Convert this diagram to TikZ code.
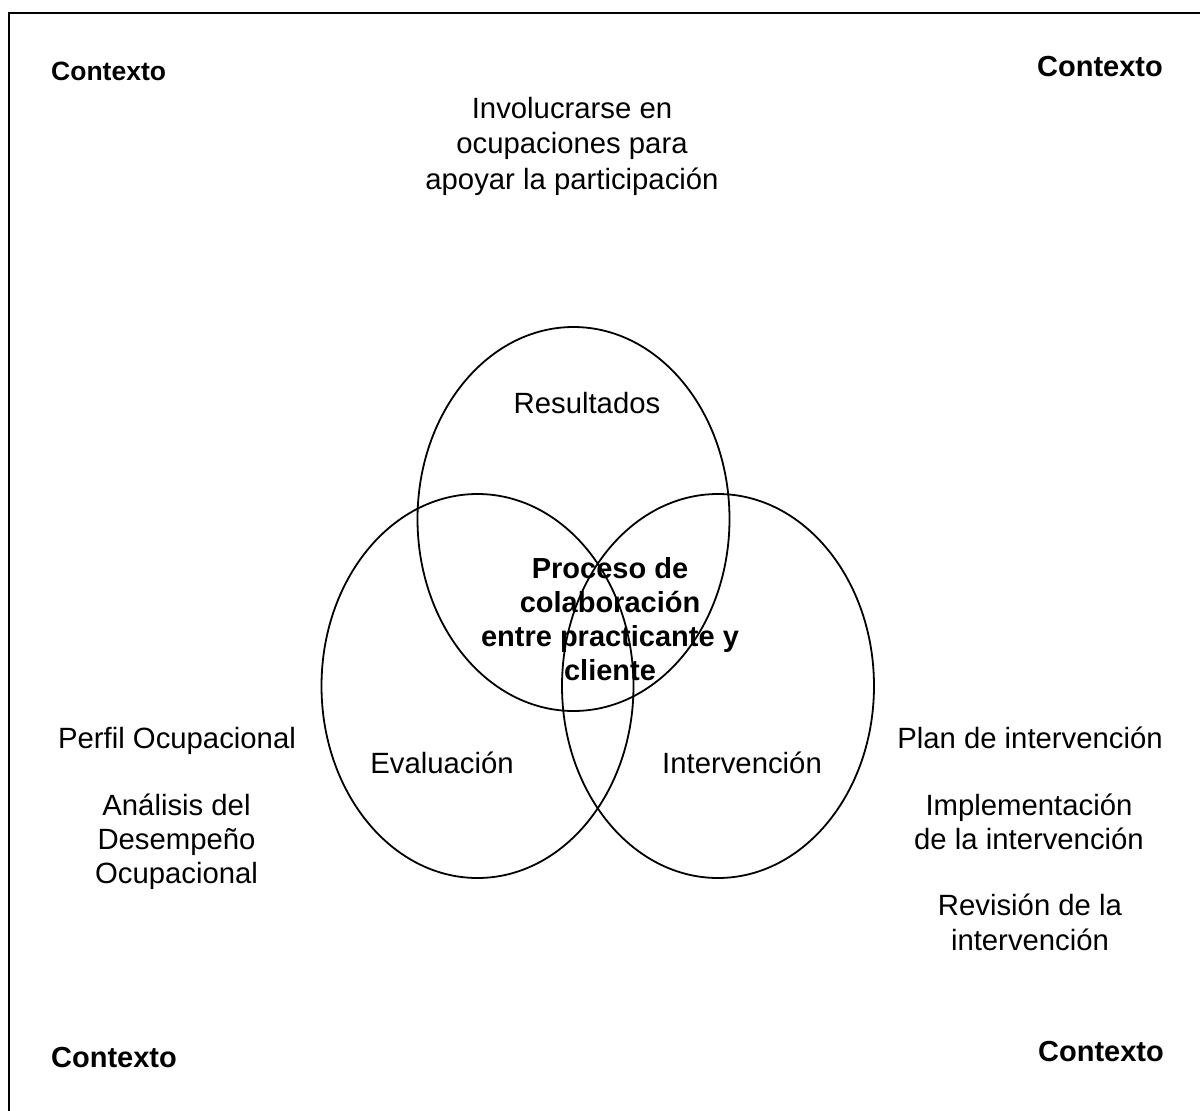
\documentclass[tikz,border=0pt]{standalone}
\usepackage{fontspec}
\setmainfont{Liberation Sans}
\usetikzlibrary{shapes.geometric}
\begin{document}
\begin{tikzpicture}[x=1pt,y=-1pt,
  circ/.style={draw, ellipse, line width=1.8pt, minimum width=312pt, minimum height=384pt, inner sep=0pt},
  lbl/.style={inner sep=0pt, font=\fontsize{29.3}{34}\selectfont, align=center},
  midlbl/.style={inner sep=0pt, font=\bfseries\fontsize{29}{34}\selectfont, align=center},
  ctx/.style={inner sep=0pt, font=\bfseries\fontsize{29}{34}\selectfont},
  frame/.style={draw, line width=2pt}]
\useasboundingbox (0,0) rectangle (1200,1111);
\clip (0,0) rectangle (1200,1111);
\fill[white] (0,0) rectangle (1200,1111);
\draw[frame] (8.5,12.7) rectangle (1215,1125);
% circles
\node[circ] (res) at (573.5,519) {};
\node[circ] (eva) at (477.5,686) {};
\node[circ] (int) at (718,686) {};
% context labels
\node[ctx, font=\bfseries\fontsize{26.5}{30}\selectfont, anchor=base west] (ctxTL) at (51,80) {Contexto};
\node[ctx, anchor=base east] (ctxTR) at (1163,76) {Contexto};
\node[ctx, anchor=base west] (ctxBL) at (51,1067) {Contexto};
\node[ctx, anchor=base east] (ctxBR) at (1164,1061) {Contexto};
% top text
\node[lbl, font=\fontsize{29.3}{35.5}\selectfont, anchor=north] (invol) at (572,97) {Involucrarse en\\ocupaciones para\\apoyar la participación};
% circle labels
\node[lbl, anchor=base] (resl) at (587,413) {Resultados};
\node[lbl, anchor=base] (eval) at (442,773) {Evaluación};
\node[lbl, anchor=base] (intl) at (742,773) {Intervención};
\node[midlbl, anchor=north] (proc) at (610,557) {Proceso de\\colaboración\\entre practicante y\\cliente};
% left column
\node[lbl, anchor=base] (perfil) at (177,748) {Perfil Ocupacional};
\node[lbl, font=\fontsize{29.3}{34}\selectfont, anchor=north] (analisis) at (176.5,793.5) {Análisis del\\Desempeño\\Ocupacional};
% right column
\node[lbl, anchor=base] (plan) at (1030,748) {Plan de intervención};
\node[lbl, font=\fontsize{29.3}{34}\selectfont, anchor=north] (impl) at (1029,793.5) {Implementación\\de la intervención};
\node[lbl, font=\fontsize{29.3}{35}\selectfont, anchor=north] (rev) at (1030,893.5) {Revisión de la\\intervención};
\end{tikzpicture}
\end{document}
